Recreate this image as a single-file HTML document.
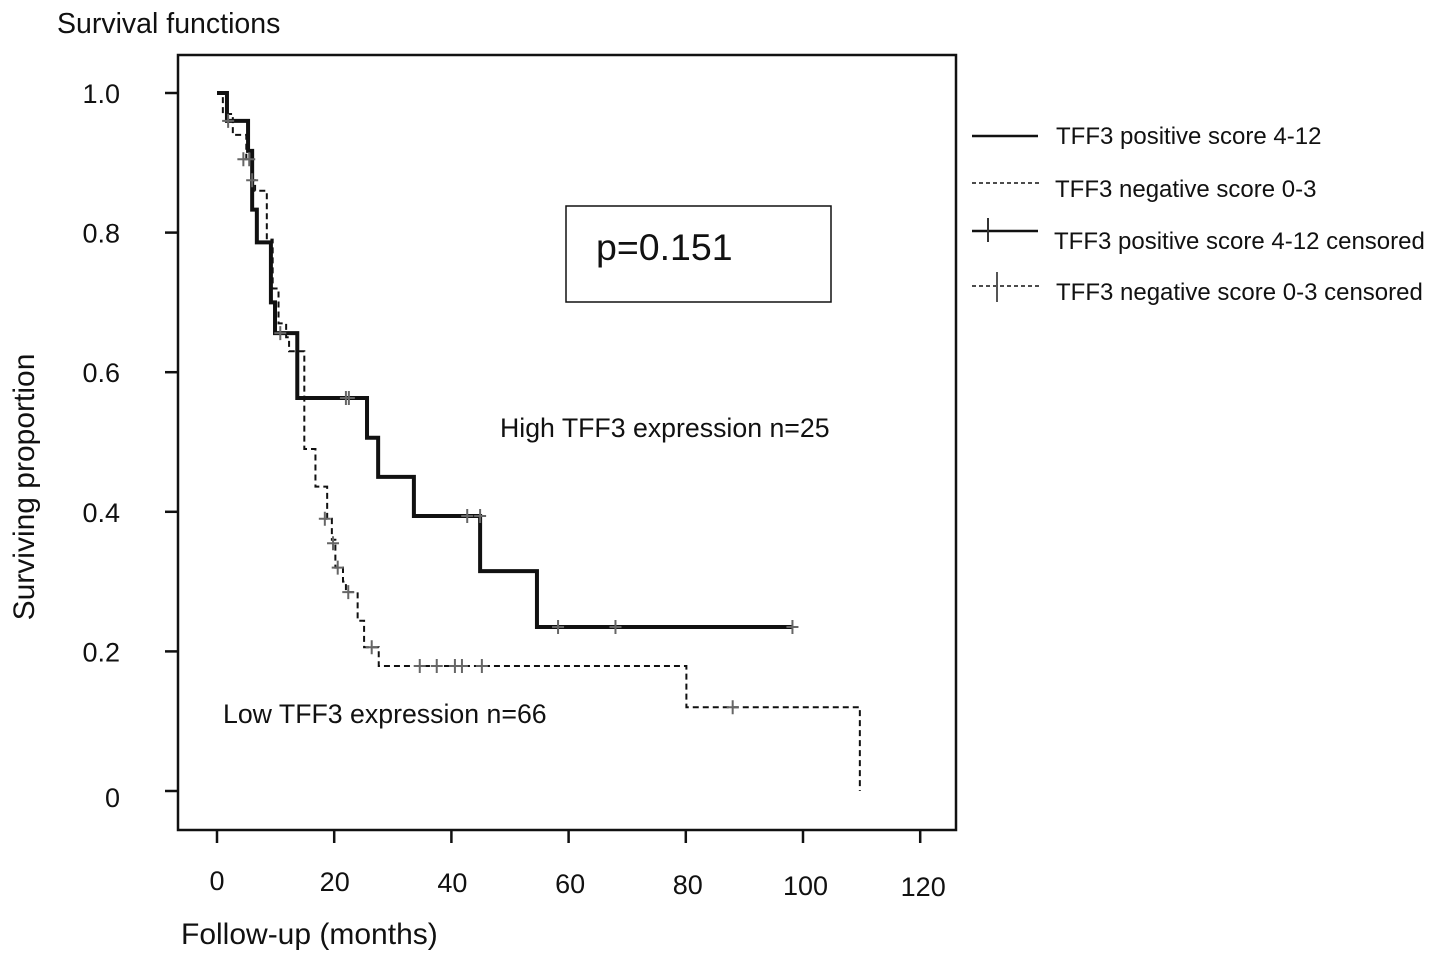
<!DOCTYPE html>
<html><head><meta charset="utf-8"><style>
body{margin:0;background:#fff;}
svg text{font-family:"Liberation Sans",sans-serif;fill:#111;}
</style></head><body>
<svg width="1441" height="963" viewBox="0 0 1441 963" xmlns="http://www.w3.org/2000/svg">
<text x="57" y="33" font-size="28.5">Survival functions</text>
<rect x="178" y="55" width="778" height="775" fill="none" stroke="#111" stroke-width="2.5"/>
<g id="yaxis"></g>
<g id="xaxis"></g>
<text transform="translate(34,487) rotate(-90)" text-anchor="middle" font-size="30">Surviving proportion</text>
<text x="181" y="944" font-size="30">Follow-up (months)</text>
<g id="series"></g>
<rect x="566" y="206" width="265" height="96" fill="none" stroke="#111" stroke-width="1.5"/>
<text x="596" y="260" font-size="37.5">p=0.151</text>
<text x="500" y="437" font-size="26.7">High TFF3 expression n=25</text>
<text x="223" y="723" font-size="26.7">Low TFF3 expression n=66</text>
<g>
<g><line x1="972" y1="136" x2="1038" y2="136" stroke="#111" stroke-width="2.5"/><text x="1056" y="144" font-size="24">TFF3 positive score 4-12</text></g>
<g><line x1="972" y1="183" x2="1040" y2="183" stroke="#111" stroke-width="1.5" stroke-dasharray="4,3"/><text x="1055" y="197" font-size="24">TFF3 negative score 0-3</text></g>
<g><line x1="972" y1="231" x2="1038" y2="231" stroke="#111" stroke-width="2.5"/><line x1="988" y1="218" x2="988" y2="242" stroke="#333" stroke-width="2"/><text x="1054" y="249" font-size="24">TFF3 positive score 4-12 censored</text></g>
<g><line x1="972" y1="286" x2="1040" y2="286" stroke="#111" stroke-width="1.5" stroke-dasharray="4,3"/><line x1="997" y1="272" x2="997" y2="302" stroke="#555" stroke-width="2"/><text x="1056" y="300" font-size="24">TFF3 negative score 0-3 censored</text></g>
</g>
</svg>
<script>
const xTicks=[0,20,40,60,80,100,120];
const yTicks=[0,0.2,0.4,0.6,0.8,1.0];
const yTickLabels=["0","0.2","0.4","0.6","0.8","1.0"];
const posTimes=[0,1.7,5.3,6.0,6.8,9.2,9.9,13.7,25.6,27.5,33.6,44.9,54.6,98.2];
const posSurv=[1.0,0.96,0.917,0.833,0.786,0.70,0.656,0.563,0.506,0.45,0.394,0.315,0.235,0.235];
const posCensT=[22,22.5,42.7,44.9,58.2,68,98.2];
const posCensS=[0.563,0.563,0.394,0.394,0.235,0.235,0.235];
const negTimes=[0,1.0,2.7,5.0,6.0,6.5,8.5,9.5,10.5,11.8,12.3,14.9,16.8,18.8,19.6,20.2,21.5,22.0,24.0,25.1,27.6,80.1,109.7];
const negSurv=[1.0,0.97,0.94,0.905,0.875,0.86,0.79,0.72,0.67,0.65,0.63,0.49,0.436,0.39,0.36,0.32,0.30,0.285,0.244,0.206,0.179,0.12,0];
const negCensT=[1.9,4.5,5.5,6.0,10.8,18.4,19.8,20.6,22.4,26.4,34.6,37.5,40.6,41.8,45.2,88];
const negCensS=[0.96,0.905,0.905,0.875,0.656,0.39,0.355,0.32,0.285,0.206,0.179,0.179,0.179,0.179,0.179,0.12];
const NS="http://www.w3.org/2000/svg";
const X=m=>217+5.86*m, Y=s=>791-698*s;
function mk(t,a,p){const e=document.createElementNS(NS,t);for(const k in a)e.setAttribute(k,a[k]);p.appendChild(e);return e;}
const ya=document.getElementById('yaxis'),xa=document.getElementById('xaxis'),sr=document.getElementById('series');
yTicks.forEach((v,i)=>{const l=mk('line',{x1:165,x2:178,y1:Y(v),y2:Y(v),stroke:'#111','stroke-width':2.5},ya);


const t=mk('text',{x:120,y:Y(v)+10+(v===0?6:0),'text-anchor':'end','font-size':27},ya);t.textContent=yTickLabels[i];

});
xTicks.forEach(v=>{const l=mk('line',{x1:X(v),x2:X(v),y1:830,y2:843,stroke:'#111','stroke-width':2.5},xa);


const t=mk('text',{x:X(v)+(v/20)*0.5,y:890+(v/20)*1,'text-anchor':'middle','font-size':27},xa);t.textContent=v;

});
function stepPath(T,S){let d=`M${X(T[0])},${Y(S[0])}`;for(let i=1;i<T.length;i++){d+=`H${X(T[i])}V${Y(S[i])}`;}return d;}
const pn=mk('path',{d:stepPath(negTimes,negSurv),fill:'none',stroke:'#111','stroke-width':2,'stroke-dasharray':'6,4'},sr);


const pp=mk('path',{d:stepPath(posTimes,posSurv),fill:'none',stroke:'#111','stroke-width':4},sr);


function cens(T,S,name){T.forEach((t,i)=>{const g=mk('path',{d:`M${X(t)-6},${Y(S[i])}h12M${X(t)},${Y(S[i])-7}v14`,stroke:'#666','stroke-width':2,fill:'none'},sr);

});}
cens(posCensT,posCensS,'positive-censor-mark');
cens(negCensT,negCensS,'negative-censor-mark');
</script>
</body></html>
